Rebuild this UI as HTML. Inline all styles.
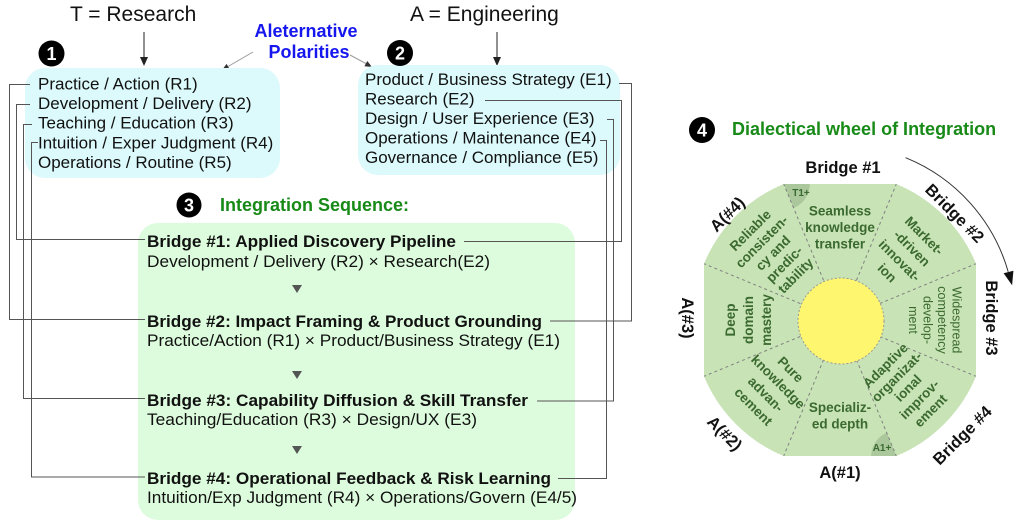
<!DOCTYPE html>
<html><head><meta charset="utf-8"><style>
html,body{margin:0;padding:0;background:#fff;}
svg{display:block;}
text{font-family:"Liberation Sans",Arial,sans-serif;}
</style></head><body>
<svg width="1024" height="521" viewBox="0 0 1024 521" xmlns="http://www.w3.org/2000/svg">
<defs>
<clipPath id="topSec"><polygon points="823.54,280.27 783.75,184 896.25,184 856.46,280.27"/></clipPath>
<clipPath id="botSec"><polygon points="856.46,359.73 896.25,456 783.75,456 823.54,359.73"/></clipPath>
</defs>
<rect width="1024" height="521" fill="#fff"/>

<!-- headers -->
<text x="70" y="21" font-size="21" fill="#111">T = Research</text>
<text x="410" y="21" font-size="21" fill="#111">A = Engineering</text>
<line x1="144" y1="32" x2="144" y2="58" stroke="#222" stroke-width="1"/>
<polygon points="140,57 148,57 144,66" fill="#222"/>
<line x1="497" y1="32" x2="497" y2="58" stroke="#222" stroke-width="1"/>
<polygon points="493,57 501,57 497,66" fill="#222"/>

<text x="306" y="37" font-size="18" font-weight="bold" fill="#1616ee" text-anchor="middle">Aleternative</text>
<text x="309" y="58" font-size="18" font-weight="bold" fill="#1616ee" text-anchor="middle">Polarities</text>
<line x1="253" y1="52" x2="228" y2="66.5" stroke="#999" stroke-width="1"/>
<polygon points="222,70 229.6,69.1 226.6,63.9" fill="#333"/>
<line x1="350" y1="55" x2="366" y2="63.6" stroke="#999" stroke-width="1"/>
<polygon points="372,67 364.4,66.3 367.3,61" fill="#333"/>

<!-- cyan boxes -->
<rect x="25" y="68" width="255" height="110" rx="20" fill="#dcf9fb"/>
<rect x="358" y="65" width="262" height="110" rx="20" fill="#dcf9fb"/>

<g font-size="17" fill="#111">
<text x="38" y="89.5">Practice / Action (R1)</text>
<text x="38" y="109.1">Development / Delivery (R2)</text>
<text x="38" y="128.7">Teaching / Education (R3)</text>
<text x="38" y="148.3">Intuition / Exper Judgment (R4)</text>
<text x="38" y="167.9">Operations / Routine (R5)</text>
<text x="365" y="85">Product / Business Strategy (E1)</text>
<text x="365" y="104.5">Research (E2)</text>
<text x="365" y="124">Design / User Experience (E3)</text>
<text x="365" y="143.5">Operations / Maintenance (E4)</text>
<text x="365" y="163">Governance / Compliance (E5)</text>
</g>

<!-- number circles -->
<circle cx="51.5" cy="53.5" r="13" fill="#000"/>
<text x="51.5" y="60" font-size="18" font-weight="bold" fill="#fff" text-anchor="middle">1</text>
<circle cx="400" cy="53" r="13" fill="#000"/>
<text x="400" y="59.5" font-size="18" font-weight="bold" fill="#fff" text-anchor="middle">2</text>
<circle cx="189" cy="205" r="12.5" fill="#000"/>
<text x="189" y="211.5" font-size="18" font-weight="bold" fill="#fff" text-anchor="middle">3</text>
<circle cx="702" cy="130" r="13" fill="#000"/>
<text x="702" y="136.5" font-size="18" font-weight="bold" fill="#fff" text-anchor="middle">4</text>

<text x="220" y="211" font-size="18" font-weight="bold" fill="#178a17">Integration Sequence:</text>
<text x="732" y="135" font-size="18" font-weight="bold" fill="#178a17">Dialectical wheel of Integration</text>

<!-- green box -->
<rect x="138" y="223" width="437" height="297" rx="20" fill="#ddfcdd"/>

<g fill="#111">
<text x="147" y="247" font-size="17" font-weight="bold" textLength="309" lengthAdjust="spacingAndGlyphs">Bridge #1: Applied Discovery Pipeline</text>
<text x="147" y="267" font-size="17" textLength="343" lengthAdjust="spacingAndGlyphs">Development / Delivery (R2) × Research(E2)</text>
<text x="147" y="327" font-size="17" font-weight="bold" textLength="395" lengthAdjust="spacingAndGlyphs">Bridge #2: Impact Framing &amp; Product Grounding</text>
<text x="147" y="346" font-size="17" textLength="413" lengthAdjust="spacingAndGlyphs">Practice/Action (R1) × Product/Business Strategy (E1)</text>
<text x="147" y="406" font-size="17" font-weight="bold" textLength="381" lengthAdjust="spacingAndGlyphs">Bridge #3: Capability Diffusion &amp; Skill Transfer</text>
<text x="147" y="425" font-size="17" textLength="330" lengthAdjust="spacingAndGlyphs">Teaching/Education (R3) × Design/UX (E3)</text>
<text x="147" y="484" font-size="17" font-weight="bold" textLength="404" lengthAdjust="spacingAndGlyphs">Bridge #4: Operational Feedback &amp; Risk Learning</text>
<text x="147" y="503" font-size="17" textLength="430" lengthAdjust="spacingAndGlyphs">Intuition/Exp Judgment (R4) × Operations/Govern (E4/5)</text>
</g>

<g fill="#555">
<polygon points="292,285 302,285 297,293"/>
<polygon points="292,371 302,371 297,379"/>
<polygon points="292,446 302,446 297,454"/>
</g>

<!-- connectors -->
<g fill="none" stroke="#555" stroke-width="1">
<polyline points="30,84.5 9.5,84.5 9.5,319.5 145,319.5"/>
<polyline points="30,104.5 16.5,104.5 16.5,239.5 145,239.5"/>
<polyline points="32,124.5 23.5,124.5 23.5,398.5 145,398.5"/>
<polyline points="38,142.5 31.5,142.5 31.5,477 145,477"/>
<polyline points="619,83.5 631.5,83.5 631.5,321 550,321"/>
<polyline points="485,100.5 621.5,100.5 621.5,241.5 464,241.5"/>
<polyline points="607,119.5 613.5,119.5 613.5,401 537,401"/>
<polyline points="600,140.5 606.5,140.5 606.5,478.5 558,478.5"/>
</g>

<!-- wheel -->
<path d="M783.75,184 L896.25,184 A147,147 0 0 1 976,263.75 L976,376.25 A147,147 0 0 1 896.25,456 L783.75,456 A147,147 0 0 1 704,376.25 L704,263.75 A147,147 0 0 1 783.75,184 Z" fill="#c8e3b5"/>
<circle cx="783.75" cy="184" r="26" fill="#aac89c" clip-path="url(#topSec)"/>
<circle cx="896.25" cy="456" r="25" fill="#aac89c" clip-path="url(#botSec)"/>
<g stroke="#808080" stroke-width="1" stroke-dasharray="3,3">
<line x1="856.46" y1="280.27" x2="896.25" y2="184.2"/>
<line x1="879.73" y1="303.54" x2="975.81" y2="263.75"/>
<line x1="879.73" y1="336.46" x2="975.81" y2="376.25"/>
<line x1="856.46" y1="359.73" x2="896.25" y2="455.8"/>
<line x1="823.54" y1="359.73" x2="783.75" y2="455.8"/>
<line x1="800.27" y1="336.46" x2="704.19" y2="376.25"/>
<line x1="800.27" y1="303.54" x2="704.19" y2="263.75"/>
<line x1="823.54" y1="280.27" x2="783.75" y2="184.2"/>
</g>
<circle cx="841" cy="321" r="43" fill="#fef66e" stroke="#999" stroke-width="1" stroke-dasharray="2,2"/>

<text x="801" y="196" font-family="'Liberation Mono',monospace" font-size="10" font-weight="bold" fill="#3b6a30" text-anchor="middle">T1+</text>
<text x="882" y="451" font-family="'Liberation Mono',monospace" font-size="10" font-weight="bold" fill="#3b6a30" text-anchor="middle">A1+</text>

<g font-size="13.5" font-weight="bold" fill="#3b6a30" text-anchor="middle">
<g transform="translate(840,227)">
<text y="-11.7">Seamless</text><text y="4.8">knowledge</text><text y="21.3">transfer</text>
</g>
<g transform="translate(905.8,254.2) rotate(45)">
<text y="-21.5">Market-</text><text y="-4">-driven</text><text y="13.5">innovat-</text><text y="31">ion</text>
</g>
<g transform="translate(907.9,387.9) rotate(-45)">
<text y="-27.2">Adaptive</text><text y="-11.2">organizat-</text><text y="4.8">ional</text><text y="20.8">improv-</text><text y="36.8">ement</text>
</g>
<g transform="translate(840,415.5)">
<text y="-3.5">Specializ-</text><text y="13">ed depth</text>
</g>
<g transform="translate(772.1,387.9) rotate(45)">
<text y="-21.5">Pure</text><text y="-4">knowledge</text><text y="13.5">advan-</text><text y="31">cement</text>
</g>
<g transform="translate(748,320) rotate(-90)">
<text y="-13.2">Deep</text><text y="4.8">domain</text><text y="22.8">mastery</text>
</g>
<g transform="translate(772.8,252.8) rotate(-45)">
<text y="-27.2">Reliable</text><text y="-11.2">consisten-</text><text y="4.8">cy and</text><text y="20.8">predic-</text><text y="36.8">tability</text>
</g>
</g>
<g transform="translate(935,320) rotate(90)" font-size="12.5" fill="#3b6a30" text-anchor="middle">
<text y="-17.4">Widespread</text><text y="-2.9">competency</text><text y="11.6">develop-</text><text y="26.1">ment</text>
</g>

<!-- outer labels -->
<g font-size="16.5" font-weight="bold" fill="#111" text-anchor="middle">
<text transform="translate(843,167)" y="6">Bridge #1</text>
<text transform="translate(955,213) rotate(45)" y="6">Bridge #2</text>
<text transform="translate(992,318) rotate(90)" y="6">Bridge #3</text>
<text transform="translate(962,435) rotate(-45)" y="6">Bridge #4</text>
<text transform="translate(840,472)" y="6">A(#1)</text>
<text transform="translate(725,433) rotate(45)" y="6">A(#2)</text>
<text transform="translate(688,318) rotate(90)" y="6">A(#3)</text>
<text transform="translate(727,214) rotate(-45)" y="6">A(#4)</text>
</g>

<!-- curved arrow -->
<path d="M905.6,157.7 A175,175 0 0 1 1008.2,271.8" fill="none" stroke="#333" stroke-width="1"/>
<polygon points="1012.1,285.3 1013.4,270.8 1003.6,273.2" fill="#111"/>
</svg>
</body></html>
